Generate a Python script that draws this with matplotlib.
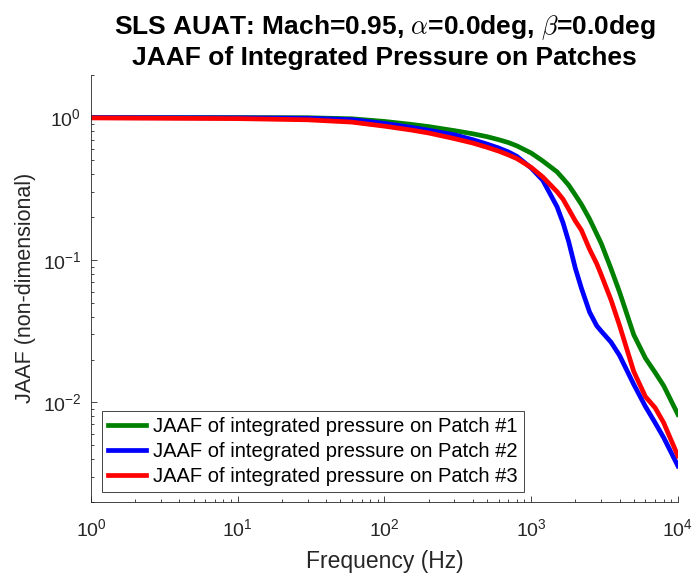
import matplotlib
matplotlib.use("Agg")
import matplotlib.pyplot as plt

plt.rcParams['font.family'] = ['Liberation Sans', 'DejaVu Sans']
plt.rcParams['mathtext.fontset'] = 'cm'

# frequency (Hz) and JAAF values
freq = [1, 10, 30, 60, 100, 150, 200, 300, 400, 500, 600, 700, 800, 1000,
        1200, 1500, 1650, 1800, 2000, 2200, 2500, 2800, 3000, 3500, 4000,
        5000, 6000, 7000, 8000, 10000]

patch1 = [1.0, 1.0, 0.998, 0.981, 0.940, 0.898, 0.865, 0.810, 0.770, 0.735,
          0.700, 0.668, 0.633, 0.564, 0.496, 0.416, 0.373, 0.336, 0.286,
          0.246, 0.194, 0.152, 0.131, 0.087, 0.0597, 0.0299, 0.0205, 0.0162,
          0.0131, 0.00824]
patch2 = [1.0, 0.997, 0.990, 0.968, 0.911, 0.857, 0.815, 0.757, 0.700, 0.652,
          0.612, 0.574, 0.534, 0.443, 0.363, 0.237, 0.182, 0.135, 0.0875,
          0.0634, 0.0431, 0.0345, 0.0317, 0.0265, 0.0214, 0.0134, 0.00938,
          0.00719, 0.00566, 0.00358]
patch3 = [0.995, 0.984, 0.965, 0.930, 0.871, 0.820, 0.780, 0.712, 0.663, 0.619,
          0.582, 0.547, 0.515, 0.447, 0.383, 0.302, 0.267, 0.228, 0.188,
          0.162, 0.119, 0.094, 0.079, 0.0525, 0.0348, 0.0165, 0.0110, 0.00916,
          0.0072, 0.00421]

labels = ["JAAF of integrated pressure on Patch #1",
          "JAAF of integrated pressure on Patch #2",
          "JAAF of integrated pressure on Patch #3"]
colors = ["#008000", "#0000ff", "#ff0000"]

axcol = "#262626"

fig = plt.figure(figsize=(6.96, 5.75), dpi=100)
ax = fig.add_axes([0.1307, 0.127, 0.8433, 0.743])

for y, lab, c in zip([patch1, patch2, patch3], labels, colors):
    ax.loglog(freq, y, color=c, lw=3.4, label=lab, solid_joinstyle='round')

ax.set_xlim(1, 1e4)
ax.set_ylim(0.002, 2)

for s in ['top', 'right']:
    ax.spines[s].set_visible(False)
for s in ['left', 'bottom']:
    ax.spines[s].set_color(axcol)
    ax.spines[s].set_linewidth(0.6)

ax.tick_params(which='both', direction='in', colors=axcol, width=0.6,
               labelsize=14)
ax.tick_params(which='major', length=4)
ax.tick_params(which='minor', length=2.5)
ax.tick_params(axis='x', pad=12)
ax.tick_params(axis='y', pad=7)

ax.set_xlabel("Frequency (Hz)", fontsize=16.5, color=axcol, labelpad=7)
ax.set_ylabel("JAAF (non-dimensional)", fontsize=15.5, color=axcol, labelpad=5)
ax.set_title("SLS AUAT: Mach=0.95, $\\alpha$=0.0deg, $\\beta$=0.0deg\n"
             "JAAF of Integrated Pressure on Patches",
             fontsize=19, fontweight='bold', pad=7, linespacing=1.2)

leg = ax.legend(loc='lower left', bbox_to_anchor=(0.018, 0.023),
                borderaxespad=0, fontsize=14.5, fancybox=False,
                handlelength=1.9, handletextpad=0.35, borderpad=0.3,
                labelspacing=0.3, framealpha=1)
leg.get_frame().set_edgecolor(axcol)
leg.get_frame().set_linewidth(0.6)

fig.savefig("out.png", dpi=100)
